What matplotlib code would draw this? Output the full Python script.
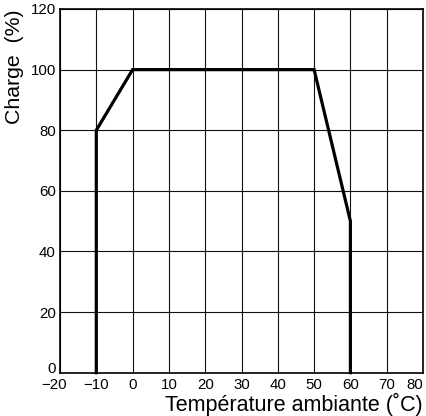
import matplotlib.pyplot as plt
from matplotlib.transforms import ScaledTranslation

plt.rcParams['font.family'] = ['Liberation Sans', 'DejaVu Sans']

# derating curve
temps = [-10, -10, 0, 50, 60, 60]
loads = [0, 80, 100, 100, 50, 0]
xticks = [-20, -10, 0, 10, 20, 30, 40, 50, 60, 70, 80]
yticks = [0, 20, 40, 60, 80, 100, 120]

fig = plt.figure(figsize=(4.26, 4.16), dpi=100)
ax = fig.add_axes([60/426, 1-372.7/416, 363/426, 363.7/416])

ax.set_xlim(-20, 80)
ax.set_ylim(0, 120)
ax.set_xticks(xticks)
ax.set_yticks(yticks)
ax.set_xticklabels([str(t).replace('-', '\u2212') for t in xticks])
ax.tick_params(length=0, labelsize=10.8)
ax.tick_params(axis='x', pad=3.5)
ax.tick_params(axis='y', pad=3)
ax.grid(True, color='#111111', lw=0.8)
ax.set_axisbelow(True)
for s in ax.spines.values():
    s.set_linewidth(1.2)

# end labels nudged like the original
xl = ax.get_xticklabels()
xl[0].set_transform(xl[0].get_transform() + ScaledTranslation(-6/100, 0, fig.dpi_scale_trans))
xl[-1].set_transform(xl[-1].get_transform() + ScaledTranslation(-8/100, 0, fig.dpi_scale_trans))
yl = ax.get_yticklabels()
yl[0].set_transform(yl[0].get_transform() + ScaledTranslation(0, 5/100, fig.dpi_scale_trans))

ax.plot(temps, loads, color='black', lw=2.3, solid_joinstyle='miter', clip_on=False, zorder=3)

fig.text(423/426, 1-411/416, 'Température ambiante (˚C)', fontsize=15.5,
         ha='right', va='baseline')
fig.text(15/426, 1-67/416, 'Charge  (%)', rotation=90, fontsize=15.3, ha='center', va='center')

fig.savefig('out.png', dpi=100)
